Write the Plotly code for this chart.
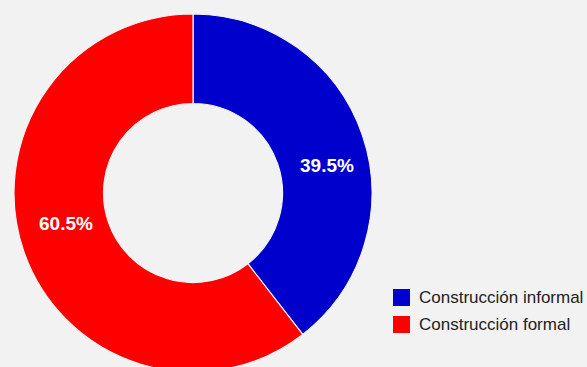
import math
import plotly.graph_objects as go

# Share of construction by type (percent)
labels = ["Construcción informal", "Construcción formal"]
values = [39.5, 60.5]
colors = ["#0000cc", "#ff0000"]

W, H = 587, 372
BG = "#f2f2f2"
FONT = "Liberation Sans, Arial, sans-serif"

# Donut geometry in pixels
CX, CY, R_OUT = 193, 193, 179
HOLE = 0.5


def px_x(x):
    return x / W


def px_y(y):
    return 1 - y / H


fig = go.Figure(
    go.Pie(
        labels=labels,
        values=values,
        hole=HOLE,
        sort=False,
        direction="clockwise",
        rotation=0,
        marker=dict(colors=colors, line=dict(color=BG, width=1.2)),
        textinfo="none",
        showlegend=False,
        hoverinfo="label+percent",
        domain=dict(x=[px_x(CX - R_OUT), px_x(CX + R_OUT)],
                    y=[px_y(CY + R_OUT), px_y(CY - R_OUT)]),
    )
)

# Percentage labels placed within the ring of each slice
total = sum(values)
r_label = R_OUT * (1 + HOLE) / 2 - 1
label_shift = 6.5  # degrees, clockwise
label_dx, label_dy = 3.5, 1.5
annotations = []
start = 0.0
for v in values:
    mid = (start + v / 2) / total * 360 + label_shift
    start += v
    t = math.radians(mid)
    annotations.append(dict(
        xref="paper", yref="paper",
        x=px_x(CX + label_dx + r_label * math.sin(t)),
        y=px_y(CY + label_dy - r_label * math.cos(t)),
        xanchor="center", yanchor="middle",
        text=f"<b>{v / total * 100:.1f}%</b>", showarrow=False,
        font=dict(family=FONT, size=19, color="white"),
    ))

# Legend drawn as swatches plus labels at the lower right
box = 17
x0 = 393
y_first = 289
step = 27
shapes = []
for i, (lab, col) in enumerate(zip(labels, colors)):
    top = y_first + i * step
    shapes.append(dict(
        type="rect", xref="paper", yref="paper",
        x0=px_x(x0), x1=px_x(x0 + box),
        y0=px_y(top + box), y1=px_y(top),
        fillcolor=col, line=dict(width=0),
    ))
    annotations.append(dict(
        xref="paper", yref="paper",
        x=px_x(x0 + box + 7), y=px_y(top + box / 2),
        xanchor="left", yanchor="middle",
        text=lab, showarrow=False,
        font=dict(family=FONT, size=17, color="#222222"),
    ))

fig.update_layout(
    width=W, height=H,
    margin=dict(l=0, r=0, t=0, b=0),
    paper_bgcolor=BG, plot_bgcolor=BG,
    shapes=shapes, annotations=annotations,
)

fig.write_html(
    "out.html",
    post_script="document.body.style.margin='0';document.body.style.overflow='hidden';document.body.style.background='#f2f2f2';",
)
